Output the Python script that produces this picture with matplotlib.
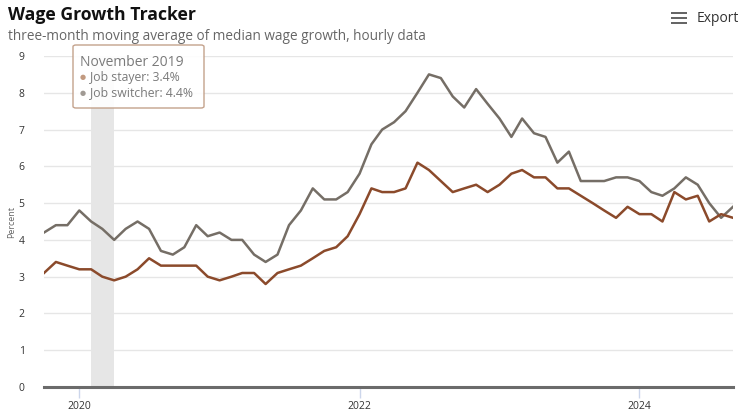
import pandas as pd
import matplotlib
matplotlib.use("Agg")
import matplotlib.pyplot as plt
import matplotlib.dates as mdates
from matplotlib.patches import FancyBboxPatch, Rectangle

# Monthly data, Oct 2019 - Sep 2024 (three-month moving average, percent)
months = pd.date_range("2019-10-01", "2024-09-01", freq="MS")

job_stayer = [3.1, 3.4, 3.3, 3.2, 3.2, 3.0, 2.9, 3.0, 3.2, 3.5,
              3.3, 3.3, 3.3, 3.3, 3.0, 2.9, 3.0, 3.1, 3.1, 2.8,
              3.1, 3.2, 3.3, 3.5, 3.7, 3.8, 4.1, 4.7, 5.4, 5.3,
              5.3, 5.4, 6.1, 5.9, 5.6, 5.3, 5.4, 5.5, 5.3, 5.5,
              5.8, 5.9, 5.7, 5.7, 5.4, 5.4, 5.2, 5.0, 4.8, 4.6,
              4.9, 4.7, 4.7, 4.5, 5.3, 5.1, 5.2, 4.5, 4.7, 4.6]

job_switcher = [4.2, 4.4, 4.4, 4.8, 4.5, 4.3, 4.0, 4.3, 4.5, 4.3,
                3.7, 3.6, 3.8, 4.4, 4.1, 4.2, 4.0, 4.0, 3.6, 3.4,
                3.6, 4.4, 4.8, 5.4, 5.1, 5.1, 5.3, 5.8, 6.6, 7.0,
                7.2, 7.5, 8.0, 8.5, 8.4, 7.9, 7.6, 8.1, 7.7, 7.3,
                6.8, 7.3, 6.9, 6.8, 6.1, 6.4, 5.6, 5.6, 5.6, 5.7,
                5.7, 5.6, 5.3, 5.2, 5.4, 5.7, 5.5, 5.0, 4.6, 4.9]

recession = ("2020-02-01", "2020-04-01")
tick_years = ["2020-01-01", "2022-01-01", "2024-01-01"]
tooltip_idx = 1

stayer_color = "#8b4a2b"
switcher_color = "#756e66"

plt.rcParams['font.family'] = ['Open Sans', 'DejaVu Sans']

fig = plt.figure(figsize=(7.49, 4.19), dpi=100)
ax = fig.add_axes([44 / 749, 32 / 419, 689 / 749, 331 / 419])

ax.axvspan(pd.Timestamp(recession[0]), pd.Timestamp(recession[1]),
           color="#e6e6e6", zorder=0, lw=0)

ax.plot(months, job_switcher, color=switcher_color, lw=1.8, zorder=3)
ax.plot(months, job_stayer, color=stayer_color, lw=1.8, zorder=3)

ax.set_xlim(months[0], months[-1])
ax.set_ylim(0, 9)
ax.set_yticks(range(0, 10))
ax.grid(axis="y", color="#e6e6e6", lw=1)
ax.set_axisbelow(True)

for s in ["top", "right", "left"]:
    ax.spines[s].set_visible(False)
ax.spines["bottom"].set_color("#6b6b6b")
ax.spines["bottom"].set_linewidth(2.2)

ax.set_xticks([pd.Timestamp(t) for t in tick_years])
ax.xaxis.set_major_formatter(mdates.DateFormatter("%Y"))
ax.tick_params(axis="x", colors="#ccd6eb", length=8, width=1, labelcolor="#333333",
               labelsize=7.5, pad=2)
ax.tick_params(axis="y", length=0, labelcolor="#333333", labelsize=7.5, pad=14)
ax.set_ylabel("Percent", fontsize=6.5, color="#666666", labelpad=2)

fig.text(8 / 749, 1 - 15 / 419, "Wage Growth Tracker", fontsize=12.7,
         fontweight="bold", color="#111111", va="center", ha="left")
fig.text(8 / 749, 1 - 37 / 419, "three-month moving average of median wage growth, hourly data",
         fontsize=9.8, color="#666666", va="center", ha="left")

# Export button
for dy in (13, 18, 23):
    fig.add_artist(Rectangle((671 / 749, 1 - (dy + 1.3) / 419), 16 / 749, 2.6 / 419,
                             transform=fig.transFigure, color="#666666", lw=0))
fig.text(697 / 749, 1 - 19 / 419, "Export", fontsize=10, color="#333333",
         va="center", ha="left")

# Tooltip
box = FancyBboxPatch((73 / 749, 1 - 108 / 419), 131 / 749, 63 / 419,
                     boxstyle="round,pad=0,rounding_size=0.004",
                     transform=fig.transFigure, facecolor="white", alpha=0.92,
                     edgecolor="#bf9a82", lw=1, zorder=10)
fig.add_artist(box)
label = months[tooltip_idx].strftime("%B %Y")
fig.text(80 / 749, 1 - 62 / 419, label, fontsize=10, color="#7a7a7a",
         va="center", ha="left", zorder=11)
fig.text(80 / 749, 1 - 78 / 419, "\u25cf", fontsize=5, color="#c29a80",
         va="center", ha="left", zorder=11)
fig.text(90 / 749, 1 - 78 / 419, f"Job stayer: {job_stayer[tooltip_idx]}%", fontsize=8.8,
         color="#7a7a7a", va="center", ha="left", zorder=11)
fig.text(80 / 749, 1 - 93 / 419, "\u25cf", fontsize=5, color="#a09a94",
         va="center", ha="left", zorder=11)
fig.text(90 / 749, 1 - 93 / 419, f"Job switcher: {job_switcher[tooltip_idx]}%", fontsize=8.8,
         color="#7a7a7a", va="center", ha="left", zorder=11)

plt.savefig("out.png", dpi=100)
